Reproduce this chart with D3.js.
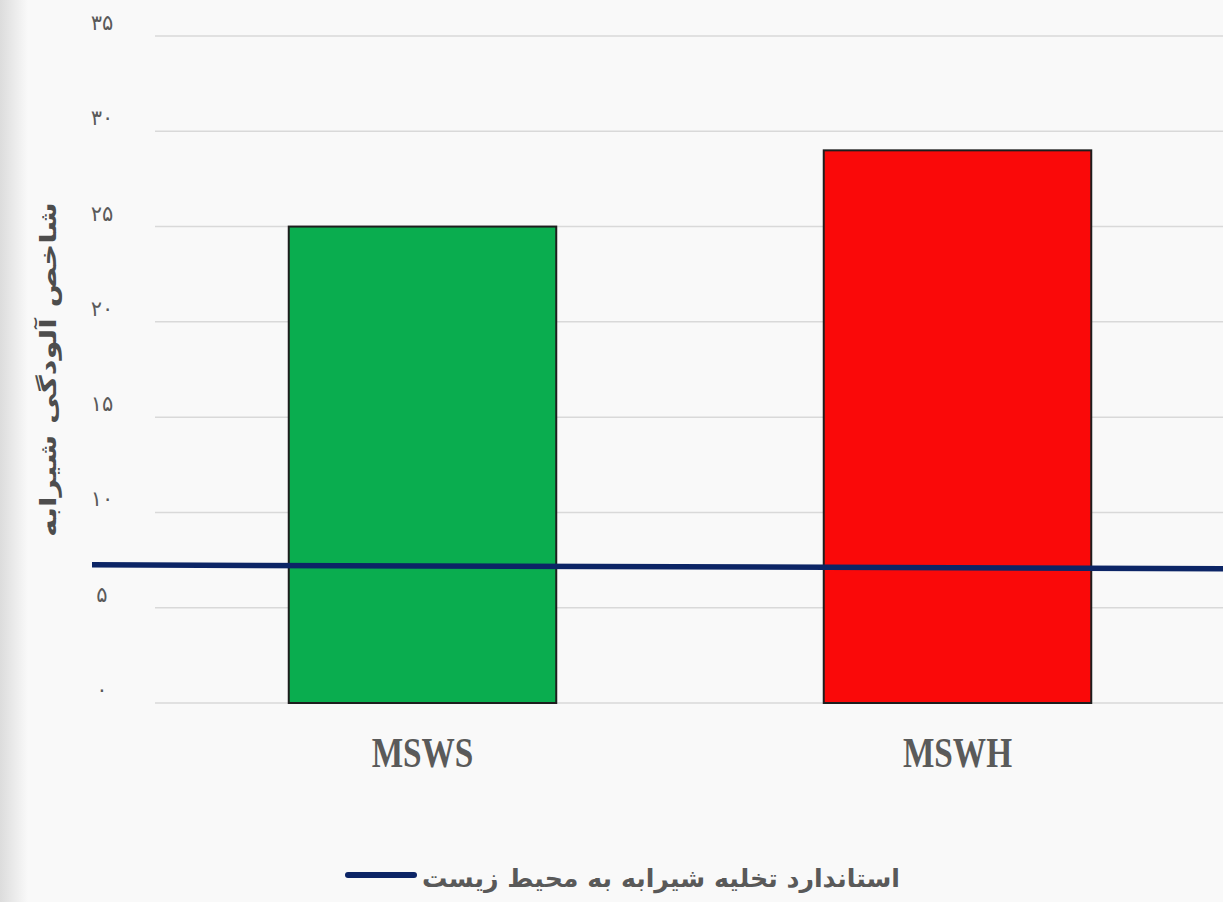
<!DOCTYPE html>
<html>
<head>
<meta charset="utf-8">
<script src="https://cdn.jsdelivr.net/npm/d3@7"></script>
<style>
  html, body { margin: 0; padding: 0; background: #f9f9f9; }
  svg { display: block; }
</style>
</head>
<body>
<div id="chart"></div>
<script>
// data
const categories = ["MSWS", "MSWH"];
const values = [25, 29];
const barColors = ["#0aad4f", "#fa0909"];
const yTicks = [0, 5, 10, 15, 20, 25, 30, 35];
const yTickLabels = ["۰", "۵", "۱۰", "۱۵", "۲۰", "۲۵", "۳۰", "۳۵"];
// standard line, value at left end and right end
const standardValues = [7.25, 7.05];
const yTitle = "شاخص آلودگی شیرابه";
const legendLabel = "استاندارد تخلیه شیرابه به محیط زیست";

const W = 1223, H = 902;
const margin = { top: 36, left: 155, bottom: 199 };

const svg = d3.select("#chart").append("svg")
  .attr("width", W)
  .attr("height", H);

// left edge shading
const defs = svg.append("defs");
const grad = defs.append("linearGradient").attr("id", "edge");
grad.append("stop").attr("offset", "0%").attr("stop-color", "#dcdcdc");
grad.append("stop").attr("offset", "100%").attr("stop-color", "#f9f9f9");
svg.append("rect").attr("width", W).attr("height", H).attr("fill", "#f9f9f9");
svg.append("rect").attr("width", 28).attr("height", H).attr("fill", "url(#edge)");

const y = d3.scaleLinear()
  .domain([0, 35])
  .range([H - margin.bottom, margin.top]);

const x = d3.scaleBand()
  .domain(categories)
  .range([margin.left, margin.left + 1070])
  .paddingInner(0.5)
  .paddingOuter(0.25);

// gridlines
svg.append("g")
  .selectAll("line")
  .data(yTicks)
  .enter()
  .append("line")
    .attr("x1", margin.left)
    .attr("x2", W)
    .attr("y1", d => y(d))
    .attr("y2", d => y(d))
    .attr("stroke", "#d9d9d9")
    .attr("stroke-width", 1.5);

// y tick labels (sit a little above their gridline)
svg.append("g")
  .selectAll("text")
  .data(yTicks)
  .enter()
  .append("text")
    .attr("x", 102)
    .attr("y", d => y(d) - 6)
    .attr("text-anchor", "middle")
    .attr("font-family", "DejaVu Sans")
    .attr("font-size", 21)
    .attr("fill", "#5a5a5a")
    .text((d, i) => yTickLabels[i]);

// y title
svg.append("text")
  .attr("transform", "translate(48," + y(17.5) + ") rotate(-90)")
  .attr("text-anchor", "middle")
  .attr("dy", "0.35em")
  .attr("font-family", "DejaVu Sans")
  .attr("font-weight", "bold")
  .attr("font-size", 23)
  .attr("fill", "#4d4d4d")
  .attr("textLength", 335)
  .attr("lengthAdjust", "spacingAndGlyphs")
  .text(yTitle);

// bars
svg.selectAll(".bar")
  .data(values)
  .enter()
  .append("rect")
    .attr("class", "bar")
    .attr("x", (d, i) => x(categories[i]))
    .attr("y", d => y(d))
    .attr("width", x.bandwidth())
    .attr("height", d => y(0) - y(d))
    .attr("fill", (d, i) => barColors[i])
    .attr("stroke", "#1e1e1e")
    .attr("stroke-width", 2);

// x labels
svg.append("g")
  .selectAll("text")
  .data(categories)
  .enter()
  .append("text")
    .attr("transform", d => "translate(" + (x(d) + x.bandwidth() / 2) + ",767) scale(0.9,1.15)")
    .attr("text-anchor", "middle")
    .attr("font-family", "Liberation Serif")
    .attr("font-weight", "bold")
    .attr("font-size", 37)
    .attr("fill", "#5a5a5a")
    .text(d => d);

// standard line
const lineX = d3.scaleLinear().domain([0, 1]).range([92, W]);
svg.append("path")
  .datum(standardValues)
  .attr("d", d3.line()
    .x((d, i) => lineX(i))
    .y(d => y(d)))
  .attr("stroke", "#0c2566")
  .attr("stroke-width", 5.5)
  .attr("fill", "none");

// legend
const leg = svg.append("g");
leg.append("line")
  .attr("x1", 348).attr("x2", 414)
  .attr("y1", 875).attr("y2", 875)
  .attr("stroke", "#0c2566")
  .attr("stroke-width", 6)
  .attr("stroke-linecap", "round");
leg.append("text")
  .attr("x", 900)
  .attr("y", 887)
  .attr("text-anchor", "end")
  .attr("font-family", "DejaVu Sans")
  .attr("font-weight", "bold")
  .attr("font-size", 25)
  .attr("fill", "#595959")
  .attr("textLength", 478)
  .attr("lengthAdjust", "spacingAndGlyphs")
  .text(legendLabel);
</script>
</body>
</html>
